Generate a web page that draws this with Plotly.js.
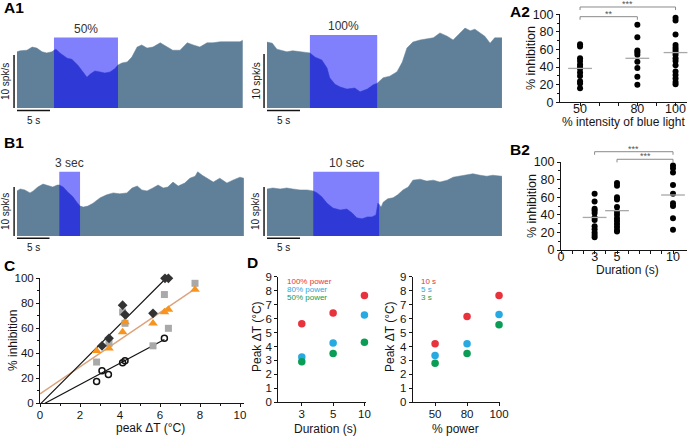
<!DOCTYPE html>
<html>
<head>
<meta charset="utf-8">
<script src="https://cdn.plot.ly/plotly-3.0.1.min.js"></script>
<style>
  html, body { margin: 0; padding: 0; background: #fff; }
  #fig { width: 688px; height: 436px; }
</style>
</head>
<body>
<div id="fig"></div>
<script>
// ---------- A1 / B1: firing-rate traces (time in s, rate in spk/s) ----------
var a1LeftT = [0, 0.5, 1.5, 2.3, 3.0, 3.8, 4.5, 5.3, 5.6, 5.9, 6.5, 7.6, 8.3, 9.2, 10.0, 10.6, 11.1, 11.8, 12.6, 13.3, 14.1, 14.8, 15.3, 15.9, 16.7, 17.4, 18.2, 18.9, 19.7, 20.6, 21.7, 22.7, 23.6, 24.7, 25.8, 26.7, 27.7, 28.8, 29.7, 30.8, 31.8, 32.7, 33.8, 34.2];
var a1LeftRate = [10.6, 10.8, 10.9, 11.5, 11.3, 10.6, 10.4, 10.6, 10.9, 11.1, 10.4, 9.4, 9.2, 8.1, 6.8, 5.8, 6.4, 7.0, 6.8, 6.6, 6.8, 7.4, 8.1, 8.5, 8.7, 9.6, 11.5, 11.9, 11.3, 11.5, 12.3, 11.5, 10.9, 10.9, 12.3, 11.9, 11.5, 12.3, 12.3, 12.5, 12.5, 12.6, 12.5, 12.8];
var a1LeftStim = [5.6, 15.3];

var a1RightT = [0, 0.8, 1.5, 2.3, 3.0, 3.9, 5.0, 6.1, 6.5, 7.3, 8.3, 9.1, 9.5, 10.3, 11.1, 12.1, 13.3, 14.1, 15.2, 16.1, 16.7, 17.6, 18.6, 19.7, 20.5, 21.2, 22.1, 23.2, 24.2, 25.2, 26.2, 27.3, 28.2, 29.2, 30.0, 30.8, 31.5, 32.3, 33.0, 33.8, 34.5, 35.6];
var a1RightRate = [12.2, 12.0, 10.9, 10.7, 10.4, 10.6, 10.4, 10.2, 10.2, 9.4, 8.9, 7.4, 5.6, 4.4, 3.9, 3.5, 3.7, 3.0, 3.5, 4.3, 4.6, 5.6, 5.9, 6.7, 8.5, 11.1, 12.2, 12.6, 12.8, 13.0, 13.9, 13.3, 12.6, 13.9, 14.8, 14.3, 14.6, 13.9, 13.3, 12.0, 13.0, 13.0];
var a1RightStim = [6.5, 16.7];

var b1LeftT = [0, 0.5, 1.2, 2.0, 2.5, 3.2, 4.0, 4.8, 5.5, 6.2, 6.5, 7.1, 7.8, 8.6, 9.2, 9.7, 10.2, 10.9, 11.7, 12.8, 13.8, 14.8, 15.8, 16.9, 17.7, 18.5, 19.2, 20.0, 20.9, 21.7, 22.5, 23.2, 24.0, 24.8, 25.8, 26.6, 27.4, 27.8, 28.5, 29.2, 30.2, 31.2, 32.3, 33.2, 34.3, 34.9];
var b1LeftRate = [9.2, 9.6, 9.4, 8.8, 9.2, 10.0, 10.6, 10.2, 10.0, 10.4, 10.4, 10.0, 9.0, 8.0, 6.9, 6.1, 5.9, 6.1, 6.7, 7.8, 8.4, 8.8, 8.6, 8.8, 9.8, 10.2, 9.4, 9.2, 9.8, 10.4, 9.8, 10.0, 11.0, 10.2, 10.8, 11.8, 12.2, 13.1, 12.4, 11.8, 11.0, 11.8, 10.8, 11.4, 12.0, 11.8];
var b1LeftStim = [6.5, 9.7];

var b1RightT = [0, 0.9, 2.0, 3.0, 3.9, 5.0, 6.1, 7.0, 7.6, 8.3, 9.1, 10.0, 11.1, 12.1, 12.9, 13.6, 14.4, 15.2, 15.9, 16.5, 16.8, 17.3, 17.6, 18.3, 19.1, 19.8, 20.6, 21.4, 22.1, 23.2, 24.2, 25.2, 26.2, 27.3, 28.2, 29.2, 30.3, 31.2, 32.3, 33.3, 34.2, 35.6];
var b1RightRate = [9.6, 9.8, 9.6, 9.8, 9.6, 9.4, 9.4, 9.2, 8.8, 8.0, 6.7, 5.7, 5.3, 5.5, 4.7, 3.7, 3.5, 3.9, 3.9, 4.3, 6.7, 5.9, 6.9, 7.6, 7.8, 8.4, 9.4, 10.0, 11.4, 11.6, 11.2, 11.4, 11.0, 11.4, 12.0, 12.2, 12.4, 12.7, 12.4, 12.2, 12.4, 12.2];
var b1RightStim = [7.0, 17.0];

var stimLabels = ['50%', '100%', '3 sec', '10 sec'];
var stimTops = [13.3, 13.5, 13.1, 13.1];   // height of the light box, spk/s

// ---------- A2: % inhibition vs light intensity ----------
var a2Levels = [50, 80, 100];
var a2Values = [
  [66, 63.5, 50, 47, 43, 40.5, 38, 34, 30, 24, 21.5, 16],
  [88, 74, 59, 57, 54, 46, 39, 29, 20],
  [96, 93, 77, 65, 62, 59.5, 57, 54, 50, 47, 42, 35, 31, 27, 23, 20.5]
];
var a2Means = [38.5, 50, 56.5];
var a2Tests = [[50, 80, '**'], [50, 100, '***']];

// ---------- B2: % inhibition vs duration ----------
var b2Levels = [3, 5, 10];
var b2Values = [
  [64, 55, 47, 45, 42, 37, 34, 27, 23.5, 20, 17, 14.5],
  [76, 73, 60, 57.5, 49, 43.5, 40, 36, 33, 29.5, 26, 22.5, 21],
  [96, 93, 88, 74, 64, 53, 50, 36, 23]
];
var b2Means = [37, 44.7, 62.5];
var b2Tests = [[3, 10, '***'], [5, 10, '***']];

// ---------- C: % inhibition vs peak delta T ----------
var cSquareX = [2.83, 3.45, 4.13, 4.25, 5.65, 6.22, 6.42, 7.75];
var cSquareY = [33, 48, 73, 64, 46, 87, 60, 96];
var cTriX = [2.83, 3.45, 4.13, 4.25, 5.65, 6.22, 6.42, 7.75];
var cTriY = [42, 44, 57, 65, 64, 73, 75, 91];
var cDiamondX = [3.1, 3.45, 4.13, 4.25, 5.65, 6.25, 6.42];
var cDiamondY = [46, 52, 78.5, 71, 72, 100, 100];
var cCircleX = [2.83, 3.1, 3.42, 4.13, 4.25, 6.22];
var cCircleY = [17.5, 26, 23, 32.5, 34, 52];
var cFitDiamondX = [0.05, 6.3], cFitDiamondY = [0, 100];
var cFitTriX = [0, 7.75], cFitTriY = [7.5, 91.5];
var cFitCircleX = [0.25, 6.22], cFitCircleY = [0, 51];

// ---------- D: peak delta T ----------
var dDurations = ['3', '5', '10'];
var dPowerNames = ['100% power', '80% power', '50% power'];
var dByDuration = [[5.62, 6.4, 7.65], [3.25, 4.25, 6.25], [2.9, 3.5, 4.3]];
var dPowers = ['50', '80', '100'];
var dDurNames = ['10 s', '5 s', '3 s'];
var dByPower = [[4.2, 6.15, 7.65], [3.35, 4.2, 6.3], [2.8, 3.5, 5.55]];
var dColors = ['#e8333d', '#27aae1', '#0b9d55'];

// ---------- drawing ----------
var W = 688, H = 436;
var FONT = '"Liberation Sans", Arial, Helvetica, sans-serif';
var INK = '#151515';
var SLATE = '#60809a', LIGHT = '#8080fc', DARK = '#2f3ad6';

function px(x) { return x / W; }
function py(y) { return 1 - y / H; }
function xdom(origin, ppu, r) { return [px(origin + r[0] * ppu), px(origin + r[1] * ppu)]; }
function ydom(base, ppu, r) { return [py(base - r[0] * ppu), py(base - r[1] * ppu)]; }

var data = [], shapes = [], annotations = [];
var layout = {
  width: W, height: H,
  margin: {l: 0, r: 0, t: 0, b: 0},
  paper_bgcolor: 'white', plot_bgcolor: 'rgba(0,0,0,0)',
  showlegend: false,
  font: {family: FONT, color: INK, size: 12}
};

function clipToWindow(t, r, s0, s1) {
  function at(x) {
    for (var i = 1; i < t.length; i++) {
      if (t[i] >= x) { var f = (x - t[i - 1]) / (t[i] - t[i - 1]); return r[i - 1] + f * (r[i] - r[i - 1]); }
    }
    return r[r.length - 1];
  }
  var xs = [s0], ys = [at(s0)];
  t.forEach(function (v, i) { if (v > s0 && v < s1) { xs.push(v); ys.push(r[i]); } });
  xs.push(s1); ys.push(at(s1));
  return {x: xs, y: ys};
}

var tracePanels = [
  {t: a1LeftT, r: a1LeftRate, stim: a1LeftStim, x0: 17, xppu: 6.6, base: 108, yppu: 5.3},
  {t: a1RightT, r: a1RightRate, stim: a1RightStim, x0: 267, xppu: 6.6, base: 108, yppu: 5.4},
  {t: b1LeftT, r: b1LeftRate, stim: b1LeftStim, x0: 17, xppu: 6.5, base: 236, yppu: 4.9},
  {t: b1RightT, r: b1RightRate, stim: b1RightStim, x0: 267, xppu: 6.6, base: 236, yppu: 4.9}
];

tracePanels.forEach(function (p, i) {
  var n = i + 1, xa = 'x' + n, ya = 'y' + n;
  var tr = [-0.6, p.t[p.t.length - 1] + 0.1], yr = [-0.9, 15.5];
  layout['xaxis' + n] = {domain: xdom(p.x0, p.xppu, tr), range: tr, visible: false, anchor: ya, fixedrange: true};
  layout['yaxis' + n] = {domain: ydom(p.base, p.yppu, yr), range: yr, visible: false, anchor: xa, fixedrange: true};
  data.push({type: 'scatter', mode: 'lines', x: p.t, y: p.r, xaxis: xa, yaxis: ya,
    fill: 'tozeroy', fillcolor: SLATE, line: {color: SLATE, width: 0.5}, hoverinfo: 'skip'});
  var s0 = p.stim[0], s1 = p.stim[1], top = stimTops[i];
  data.push({type: 'scatter', mode: 'lines', x: [s0, s0, s1, s1], y: [0, top, top, 0], xaxis: xa, yaxis: ya,
    fill: 'toself', fillcolor: LIGHT, line: {width: 0}, hoverinfo: 'skip'});
  var seg = clipToWindow(p.t, p.r, s0, s1);
  data.push({type: 'scatter', mode: 'lines', x: seg.x, y: seg.y, xaxis: xa, yaxis: ya,
    fill: 'tozeroy', fillcolor: DARK, line: {color: DARK, width: 0.5}, hoverinfo: 'skip'});
  // scale bars: 5 s and 10 spk/s
  shapes.push({type: 'line', xref: xa, yref: ya, x0: 0, x1: 5, y0: -0.45, y1: -0.45, line: {color: INK, width: 1.5}});
  shapes.push({type: 'line', xref: xa, yref: ya, x0: -0.45, x1: -0.45, y0: 0, y1: 10, line: {color: INK, width: 1.5}});
  annotations.push({xref: xa, yref: ya, x: 2.5, y: -0.9, yanchor: 'top', text: '5 s', showarrow: false, font: {size: 10}});
  annotations.push({xref: xa, yref: ya, x: -0.45, y: 5, xanchor: 'right', xshift: -1, textangle: -90,
    text: '10 spk/s', showarrow: false, font: {size: 10}});
  annotations.push({xref: xa, yref: ya, x: (s0 + s1) / 2, y: top, yanchor: 'bottom', text: stimLabels[i],
    showarrow: false, font: {size: 12, color: '#333'}});
});

function axis(extra) {
  return Object.assign({
    showline: true, linecolor: INK, linewidth: 1, ticks: 'outside', ticklen: 3, tickwidth: 1,
    tickcolor: INK, showgrid: false, zeroline: false, fixedrange: true,
    tickfont: {size: 12, color: INK, family: FONT}
  }, extra);
}

// scatter of groups with mean bars (A2, B2)
function groupPanel(n, levels, values, means, tests, testLevels) {
  var xa = 'x' + n, ya = 'y' + n, xs = [], ys = [];
  levels.forEach(function (lv, g) { values[g].forEach(function (v) { xs.push(lv); ys.push(v); }); });
  data.push({type: 'scatter', mode: 'markers', x: xs, y: ys, xaxis: xa, yaxis: ya, cliponaxis: false,
    marker: {color: '#000', size: 6}, hoverinfo: 'skip'});
  data.push({type: 'scatter', mode: 'markers', x: levels, y: means, xaxis: xa, yaxis: ya, cliponaxis: false,
    marker: {symbol: 'line-ew-open', size: 17, color: '#a8a8a8', line: {color: '#a8a8a8', width: 1.3}}, hoverinfo: 'skip'});
  tests.forEach(function (c, k) {
    var yl = testLevels[k], drop = 0.035, st = {color: '#8a8a8a', width: 1};
    shapes.push({type: 'line', xref: xa, yref: ya + ' domain', x0: c[0], x1: c[1], y0: yl, y1: yl, line: st});
    shapes.push({type: 'line', xref: xa, yref: ya + ' domain', x0: c[0], x1: c[0], y0: yl, y1: yl - drop, line: st});
    shapes.push({type: 'line', xref: xa, yref: ya + ' domain', x0: c[1], x1: c[1], y0: yl, y1: yl - drop, line: st});
    annotations.push({xref: xa, yref: ya + ' domain', x: (c[0] + c[1]) / 2, y: yl, yanchor: 'bottom', yshift: -4,
      text: c[2], showarrow: false, font: {size: 9, color: '#555'}});
  });
}

// A2
layout.xaxis5 = axis({domain: [px(560), px(687)], range: [39.5, 106], anchor: 'y5', ticklabelstandoff: -8,
  tickvals: [50, 60, 70, 80, 90, 100], ticktext: ['50', '', '', '80', '', '100'], tickfont: {size: 12.5}});
layout.yaxis5 = axis({domain: [py(102.3), py(14.3)], range: [0, 100], anchor: 'x5', dtick: 20,
  tickfont: {size: 12.5}, minor: {dtick: 10, ticks: 'outside', ticklen: 2, tickcolor: INK}});
groupPanel(5, a2Levels, a2Values, a2Means, a2Tests, [0.973, 1.083]);

// B2
layout.xaxis6 = axis({domain: [px(561), px(687)], range: [0, 11.25], anchor: 'y6', ticklabelstandoff: -8,
  tickvals: [0, 1, 2, 3, 4, 5, 6, 7, 8, 9, 10], ticktext: ['0', '', '', '3', '', '5', '', '', '', '', '10'], tickfont: {size: 12.5}});
layout.yaxis6 = axis({domain: [py(250), py(162)], range: [0, 100], anchor: 'x6', dtick: 20,
  tickfont: {size: 12.5}, minor: {dtick: 10, ticks: 'outside', ticklen: 2, tickcolor: INK}});
groupPanel(6, b2Levels, b2Values, b2Means, b2Tests, [1.117, 1.031]);

// C
layout.xaxis7 = axis({domain: [px(40), px(244)], range: [0, 10.2], anchor: 'y7', dtick: 2, ticklabelstandoff: -2,
  tickfont: {size: 11.5}, minor: {dtick: 1, ticks: 'outside', ticklen: 2, tickcolor: INK}});
layout.yaxis7 = axis({domain: [py(403.3), py(278.3)], range: [0, 100], anchor: 'x7', dtick: 20,
  tickfont: {size: 11.5}, minor: {dtick: 10, ticks: 'outside', ticklen: 2, tickcolor: INK}});
[[cFitTriX, cFitTriY, '#dba47e', 1.5], [cFitDiamondX, cFitDiamondY, '#111', 1.2], [cFitCircleX, cFitCircleY, '#111', 1.2]]
  .forEach(function (f) {
    data.push({type: 'scatter', mode: 'lines', x: f[0], y: f[1], xaxis: 'x7', yaxis: 'y7', cliponaxis: false,
      line: {color: f[2], width: f[3]}, hoverinfo: 'skip'});
  });
data.push({type: 'scatter', mode: 'markers', x: cSquareX, y: cSquareY, xaxis: 'x7', yaxis: 'y7', cliponaxis: false,
  marker: {symbol: 'square', size: 7, color: '#a9a9a9'}, hoverinfo: 'skip'});
data.push({type: 'scatter', mode: 'markers', x: cCircleX, y: cCircleY, xaxis: 'x7', yaxis: 'y7', cliponaxis: false,
  marker: {symbol: 'circle-open', size: 6, color: '#111', line: {width: 1.5}}, hoverinfo: 'skip'});
data.push({type: 'scatter', mode: 'markers', x: cTriX, y: cTriY, xaxis: 'x7', yaxis: 'y7', cliponaxis: false,
  marker: {symbol: 'triangle-up', size: 8.5, color: '#f7941d'}, hoverinfo: 'skip'});
data.push({type: 'scatter', mode: 'markers', x: cDiamondX, y: cDiamondY, xaxis: 'x7', yaxis: 'y7', cliponaxis: false,
  marker: {symbol: 'diamond', size: 7.5, color: '#333'}, hoverinfo: 'skip'});

// D
layout.xaxis8 = axis({domain: [px(278.3), px(366)], range: [-0.75, 2.05], anchor: 'y8', type: 'category',
  categoryorder: 'array', categoryarray: dDurations, tickfont: {size: 11.5}, ticklabelstandoff: -2});
layout.yaxis8 = axis({domain: [py(402.3), py(276.7)], range: [0, 9], anchor: 'x8', dtick: 1, tickfont: {size: 11.5}});
layout.xaxis9 = axis({domain: [px(412.7), px(500)], range: [-0.7, 2.03], anchor: 'y9', type: 'category',
  categoryorder: 'array', categoryarray: dPowers, tickfont: {size: 11.5}, ticklabelstandoff: -2});
layout.yaxis9 = axis({domain: [py(402.3), py(276.7)], range: [0, 9], anchor: 'x9', dtick: 1, tickfont: {size: 11.5}});
dByDuration.forEach(function (vals, k) {
  data.push({type: 'scatter', mode: 'markers', x: dDurations, y: vals, xaxis: 'x8', yaxis: 'y8', cliponaxis: false,
    marker: {size: 7.5, color: dColors[k]}, hoverinfo: 'skip'});
  annotations.push({xref: 'paper', yref: 'paper', x: px(285), y: py(281.5 + 8 * k), xanchor: 'left', yanchor: 'middle',
    text: dPowerNames[k], showarrow: false, font: {size: 8, color: dColors[k]}});
});
dByPower.forEach(function (vals, k) {
  data.push({type: 'scatter', mode: 'markers', x: dPowers, y: vals, xaxis: 'x9', yaxis: 'y9', cliponaxis: false,
    marker: {size: 7.5, color: dColors[k]}, hoverinfo: 'skip'});
  annotations.push({xref: 'paper', yref: 'paper', x: px(419), y: py(281.5 + 8 * k), xanchor: 'left', yanchor: 'middle',
    text: dDurNames[k], showarrow: false, font: {size: 8, color: dColors[k]}});
});

// axis titles
[
  ['% intensity of blue light', 623, 122, 0, 12],
  ['% inhibition', 531, 58, -90, 12.5],
  ['Duration (s)', 627, 270, 0, 12],
  ['% inhibition', 532, 206, -90, 12.5],
  ['peak \u0394T (\u00B0C)', 150, 428, 0, 12],
  ['% inhibition', 13, 341, -90, 12],
  ['Duration (s)', 325, 428.5, 0, 12],
  ['Peak \u0394T (\u00B0C)', 257, 337, -90, 12],
  ['% power', 456, 428.5, 0, 12],
  ['Peak \u0394T (\u00B0C)', 390, 337, -90, 12]
].forEach(function (a) {
  annotations.push({xref: 'paper', yref: 'paper', x: px(a[1]), y: py(a[2]), xanchor: 'center', yanchor: 'middle',
    textangle: a[3], text: a[0], showarrow: false, font: {size: a[4], color: INK}});
});

// panel letters
[['A1', 2, 7.5], ['B1', 2, 142.5], ['A2', 508, 11.7], ['B2', 508, 149], ['C', 1.5, 265], ['D', 245, 262.5]]
  .forEach(function (l) {
    annotations.push({xref: 'paper', yref: 'paper', x: px(l[1]), y: py(l[2]), xanchor: 'left', yanchor: 'middle',
      text: '<b>' + l[0] + '</b>', showarrow: false, font: {size: 15.5, color: '#000'}});
  });

layout.shapes = shapes;
layout.annotations = annotations;
Plotly.newPlot('fig', data, layout, {staticPlot: true, displayModeBar: false});
</script>
</body>
</html>
